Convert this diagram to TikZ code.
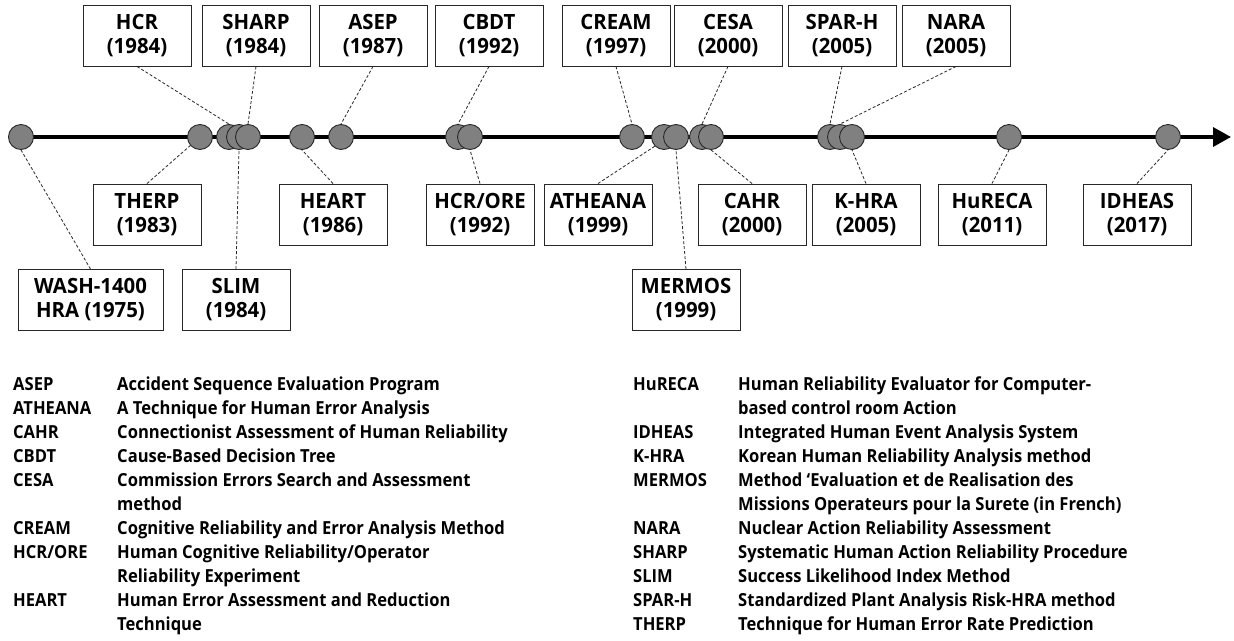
\documentclass[tikz,border=0pt]{standalone}
\usepackage{fontspec}
\setmainfont{Open Sans}
\newfontfamily\legfont{Open Sans}[FakeStretch=0.92]
\newfontfamily\boxfont{Open Sans}[FakeStretch=0.97]
\usetikzlibrary{arrows.meta,backgrounds}
\definecolor{dotgray}{RGB}{128,128,128}
\definecolor{edgec}{RGB}{40,40,40}
\tikzset{
 lbl/.style={draw=edgec, line width=0.9pt, fill=white, minimum width=108pt, minimum height=61pt, inner sep=0pt, align=center, font=\boxfont\fontsize{21}{24}\selectfont\bfseries},
 dot/.style={circle, draw=edgec, line width=0.9pt, fill=dotgray, minimum size=25pt, inner sep=0pt},
 lead/.style={dash pattern=on 3pt off 2pt, line width=0.8pt, draw=edgec},
 axisline/.style={line width=3.5pt, -{Triangle[length=18pt,width=19pt]}},
 leg/.style={anchor=base west, inner sep=0pt, font=\legfont\fontsize{18}{24}\selectfont\bfseries},
}
\begin{document}
\begin{tikzpicture}[x=1pt,y=-1pt]
\useasboundingbox (0,0) rectangle (1234,640);
% circles
\node[dot] (c1) at (21,137) {};
\node[dot] (c2) at (200,137) {};
\node[dot] (c3) at (229,137) {};
\node[dot] (c4) at (239,137) {};
\node[dot] (c5) at (248,137) {};
\node[dot] (c6) at (302,137) {};
\node[dot] (c7) at (341,137) {};
\node[dot] (c8) at (458,137) {};
\node[dot] (c9) at (470,137) {};
\node[dot] (c10) at (632,137) {};
\node[dot] (c11) at (664,137) {};
\node[dot] (c12) at (676,137) {};
\node[dot] (c13) at (702,137) {};
\node[dot] (c14) at (711,137) {};
\node[dot] (c15) at (830,137) {};
\node[dot] (c16) at (840,137) {};
\node[dot] (c17) at (852,137) {};
\node[dot] (c18) at (1009,137) {};
\node[dot] (c19) at (1168,137) {};
\coordinate (tip) at (1231,137);
% top boxes
\node[lbl] (hcr) at (137,35.5) {HCR\\(1984)};
\node[lbl] (sharp) at (256,35.5) {SHARP\\(1984)};
\node[lbl] (asep) at (373,35.5) {ASEP\\(1987)};
\node[lbl] (cbdt) at (489,35.5) {CBDT\\(1992)};
\node[lbl] (cream) at (616,35.5) {CREAM\\(1997)};
\node[lbl] (cesa) at (728,35.5) {CESA\\(2000)};
\node[lbl] (sparh) at (842,35.5) {SPAR-H\\(2005)};
\node[lbl] (nara) at (956,35.5) {NARA\\(2005)};
% bottom row 1
\node[lbl] (therp) at (147,214.5) {THERP\\(1983)};
\node[lbl] (heart) at (333,214.5) {HEART\\(1986)};
\node[lbl] (hcrore) at (480,214.5) {HCR/ORE\\(1992)};
\node[lbl] (atheana) at (598,214.5) {ATHEANA\\(1999)};
\node[lbl] (cahr) at (752,214.5) {CAHR\\(2000)};
\node[lbl] (khra) at (866,214.5) {K-HRA\\(2005)};
\node[lbl] (hureca) at (992,214.5) {HuRECA\\(2011)};
\node[lbl] (idheas) at (1137,214.5) {IDHEAS\\(2017)};
% bottom row 2
\node[lbl, minimum width=145pt] (wash) at (90.5,300) {WASH-1400\\HRA (1975)};
\node[lbl] (slim) at (236,300) {SLIM\\(1984)};
\node[lbl] (mermos) at (686,300) {MERMOS\\(1999)};
\begin{pgfonlayer}{background}
\draw[axisline] (c1.center) -- (tip);
\draw[lead] (wash.north) -- (c1.south);
\draw[lead] (therp.north) -- (c2);
\draw[lead] (hcr.south) -- (c3.north);
\draw[lead] (slim.north) -- (c4.south);
\draw[lead] (sharp.south) -- (c5.north);
\draw[lead] (heart.north) -- (c6.south);
\draw[lead] (asep.south) -- (c7.north);
\draw[lead] (cbdt.south) -- (c8.north);
\draw[lead] (hcrore.north) -- (c9.south);
\draw[lead] (cream.south) -- (c10.north);
\draw[lead] (atheana.north) -- (c11.south west);
\draw[lead] (mermos.north) -- (c12.south);
\draw[lead] (cesa.south) -- (c13.north);
\draw[lead] (cahr.north) -- (c14.south);
\draw[lead] (sparh.south) -- (c15.north);
\draw[lead] (nara.south) -- (c16.north);
\draw[lead] (khra.north) -- (c17.south);
\draw[lead] (hureca.north) -- (c18.south);
\draw[lead] (idheas.north) -- (c19.south);
\end{pgfonlayer}
% legend left
\node[leg] (la1) at (13,390.5) {ASEP};
\node[leg] (lb1) at (117,390.5) {Accident Sequence Evaluation Program};
\node[leg] (la2) at (13,414.5) {ATHEANA};
\node[leg] (lb2) at (117,414.5) {A Technique for Human Error Analysis};
\node[leg] (la3) at (13,438.5) {CAHR};
\node[leg] (lb3) at (117,438.5) {Connectionist Assessment of Human Reliability};
\node[leg] (la4) at (13,462.5) {CBDT};
\node[leg] (lb4) at (117,462.5) {Cause-Based Decision Tree};
\node[leg] (la5) at (13,486.5) {CESA};
\node[leg] (lb5) at (117,486.5) {Commission Errors Search and Assessment};
\node[leg] (lb5b) at (117,510.5) {method};
\node[leg] (la6) at (13,534.5) {CREAM};
\node[leg] (lb6) at (117,534.5) {Cognitive Reliability and Error Analysis Method};
\node[leg] (la7) at (13,558.5) {HCR/ORE};
\node[leg] (lb7) at (117,558.5) {Human Cognitive Reliability/Operator};
\node[leg] (lb7b) at (117,582.5) {Reliability Experiment};
\node[leg] (la8) at (13,606.5) {HEART};
\node[leg] (lb8) at (117,606.5) {Human Error Assessment and Reduction};
\node[leg] (lb8b) at (117,630.5) {Technique};
% legend right
\node[leg] (ra1) at (633,390.5) {HuRECA};
\node[leg] (rb1) at (738,390.5) {Human Reliability Evaluator for Computer-};
\node[leg] (rb1b) at (738,414.5) {based control room Action};
\node[leg] (ra2) at (633,438.5) {IDHEAS};
\node[leg] (rb2) at (738,438.5) {Integrated Human Event Analysis System};
\node[leg] (ra3) at (633,462.5) {K-HRA};
\node[leg] (rb3) at (738,462.5) {Korean Human Reliability Analysis method};
\node[leg] (ra4) at (633,486.5) {MERMOS};
\node[leg] (rb4) at (738,486.5) {Method ‘Evaluation et de Realisation des};
\node[leg] (rb4b) at (738,510.5) {Missions Operateurs pour la Surete (in French)};
\node[leg] (ra5) at (633,534.5) {NARA};
\node[leg] (rb5) at (738,534.5) {Nuclear Action Reliability Assessment};
\node[leg] (ra6) at (633,558.5) {SHARP};
\node[leg] (rb6) at (738,558.5) {Systematic Human Action Reliability Procedure};
\node[leg] (ra7) at (633,582.5) {SLIM};
\node[leg] (rb7) at (738,582.5) {Success Likelihood Index Method};
\node[leg] (ra8) at (633,606.5) {SPAR-H};
\node[leg] (rb8) at (738,606.5) {Standardized Plant Analysis Risk-HRA method};
\node[leg] (ra9) at (633,630.5) {THERP};
\node[leg] (rb9) at (738,630.5) {Technique for Human Error Rate Prediction};
\end{tikzpicture}
\end{document}
